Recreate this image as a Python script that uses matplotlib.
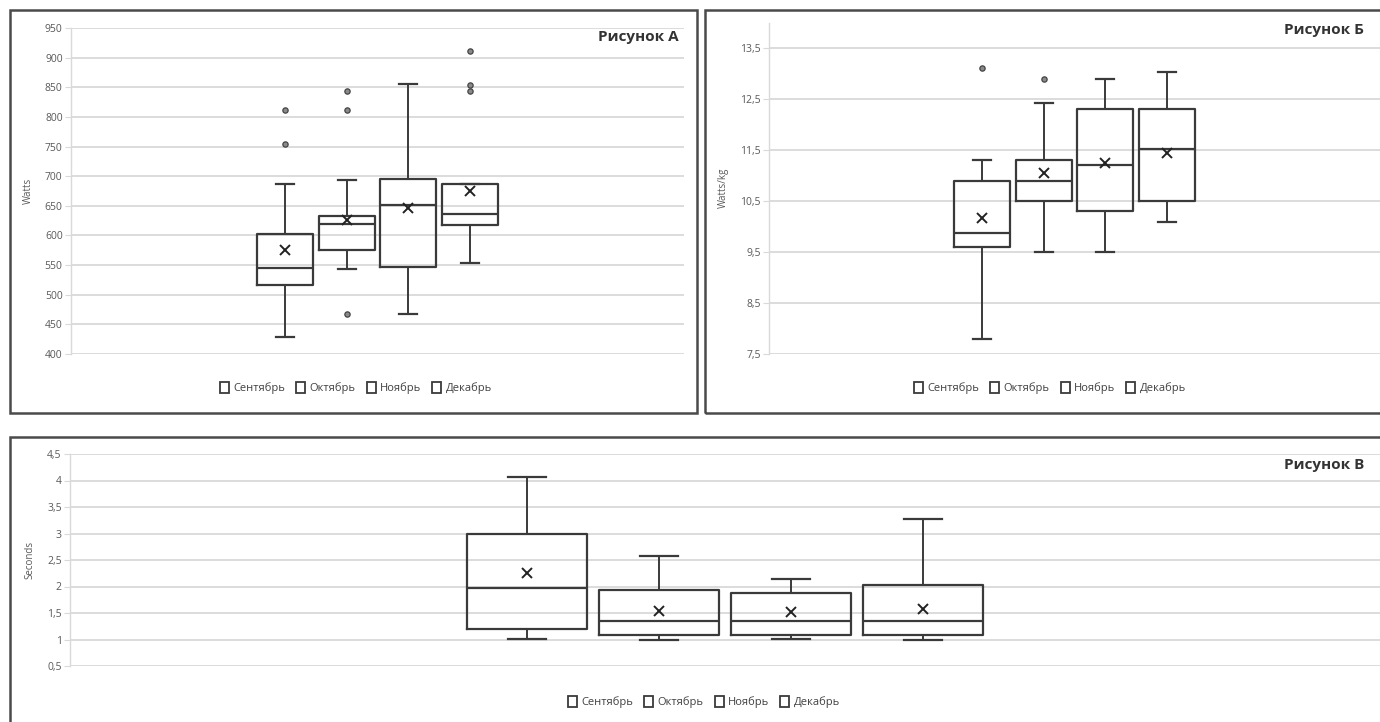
import matplotlib
matplotlib.use('Agg')
import matplotlib.pyplot as plt
from matplotlib.patches import Rectangle, Patch
from matplotlib.ticker import FuncFormatter

plt.rcParams['font.family'] = ['Open Sans', 'DejaVu Sans']

months = ['Сентябрь', 'Октябрь', 'Ноябрь', 'Декабрь']

# Panel A – Watts
a_q1 = [516, 576, 547, 618]
a_med = [545, 619, 652, 637]
a_q3 = [603, 632, 696, 687]
a_lo = [429, 543, 467, 554]
a_hi = [686, 693, 856, 687]
a_mean = [576, 626, 646, 675]
a_fliers = [[755, 811], [467, 811, 844], [], [843, 854, 912]]
a_ticks = [400, 450, 500, 550, 600, 650, 700, 750, 800, 850, 900, 950]

# Panel B – Watts/kg
b_q1 = [9.6, 10.5, 10.31, 10.5]
b_med = [9.88, 10.89, 11.21, 11.52]
b_q3 = [10.89, 11.3, 12.31, 12.31]
b_lo = [7.79, 9.5, 9.5, 10.09]
b_hi = [11.31, 12.42, 12.89, 13.02]
b_mean = [10.17, 11.04, 11.24, 11.45]
b_fliers = [[13.1], [12.89], [], []]
b_ticks = [7.5, 8.5, 9.5, 10.5, 11.5, 12.5, 13.5]

# Panel C – Seconds
c_q1 = [1.19, 1.08, 1.08, 1.08]
c_med = [1.98, 1.34, 1.34, 1.34]
c_q3 = [3.0, 1.93, 1.88, 2.02]
c_lo = [1.01, 0.99, 1.01, 0.99]
c_hi = [4.07, 2.58, 2.15, 3.27]
c_mean = [2.25, 1.54, 1.51, 1.58]
c_fliers = [[], [], [], []]
c_ticks = [0.5, 1, 1.5, 2, 2.5, 3, 3.5, 4, 4.5]

W, H = 1380, 722
fig = plt.figure(figsize=(W / 100, H / 100), dpi=100)
fig.patch.set_facecolor('white')

BOX = '#3a3a3a'
GRID = '#d9d9d9'
TXT = '#595959'


def fx(x):
    return x / W


def fy(y):
    return 1 - y / H


def make_axes(l, t, r, b):
    return fig.add_axes([fx(l), fy(b), fx(r) - fx(l), fy(t) - fy(b)])


def comma(v, _):
    s = ('%g' % v)
    return s.replace('.', ',')


def draw_panel(ax, q1, med, q3, lo, hi, mean, fliers, ticks, ylim, ylabel):
    stats = []
    for i in range(len(months)):
        stats.append(dict(q1=q1[i], med=med[i], q3=q3[i], whislo=lo[i],
                          whishi=hi[i], mean=mean[i], fliers=fliers[i],
                          label=months[i]))
    step = 0.1007
    width = 0.0917
    pos = [0.5 + (i - 1.5) * step for i in range(len(months))]
    ax.bxp(stats, positions=pos, widths=width, capwidths=[width * 0.32] * 4,
           showmeans=True, showfliers=True, patch_artist=False,
           boxprops=dict(color=BOX, lw=1.6),
           medianprops=dict(color=BOX, lw=1.6),
           whiskerprops=dict(color=BOX, lw=1.4),
           capprops=dict(color=BOX, lw=1.6),
           meanprops=dict(marker='x', markeredgecolor='#222222',
                          markerfacecolor='none', markersize=7, mew=1.4),
           flierprops=dict(marker='o', markerfacecolor='#8a8a8a',
                           markeredgecolor='#444444', markersize=3.8, mew=0.9),
           manage_ticks=False, zorder=3)
    ax.set_xlim(0, 1)
    ax.set_ylim(*ylim)
    ax.set_yticks(ticks)
    ax.yaxis.set_major_formatter(FuncFormatter(comma))
    ax.set_xticks([])
    ax.grid(axis='y', color=GRID, lw=1.3, zorder=0)
    ax.set_axisbelow(True)
    for s in ['top', 'right', 'bottom']:
        ax.spines[s].set_visible(False)
    ax.spines['left'].set_color(GRID)
    ax.spines['left'].set_linewidth(1.0)
    ax.tick_params(axis='y', length=4, color=GRID, labelsize=7.5, labelcolor=TXT, pad=2)
    ax.set_ylabel(ylabel, fontsize=7, color=TXT, labelpad=8)
    ax.patch.set_alpha(0)


def legend_at(x, y):
    handles = [Patch(facecolor='white', edgecolor='#3a3a3a', lw=1.3) for _ in months]
    fig.legend(handles, months, loc='center', bbox_to_anchor=(fx(x), fy(y)),
               bbox_transform=fig.transFigure, ncol=4, frameon=False,
               fontsize=8, handlelength=0.8, handleheight=1.1,
               handletextpad=0.4, columnspacing=1.0, labelcolor='#404040')


# Panel A
axA = make_axes(71, 28, 684, 354)
draw_panel(axA, a_q1, a_med, a_q3, a_lo, a_hi, a_mean, a_fliers, a_ticks,
           (400, 950), 'Watts')
fig.text(fx(679), fy(37), 'Рисунок А', ha='right', va='center', fontsize=11,
         fontweight='bold', color='#333333')
legend_at(356, 388)

# Panel B
axB = make_axes(769, 22.5, 1380, 354)
draw_panel(axB, b_q1, b_med, b_q3, b_lo, b_hi, b_mean, b_fliers, b_ticks,
           (7.5, 14.0), 'Watts/kg')
fig.text(fx(1364), fy(30), 'Рисунок Б', ha='right', va='center', fontsize=11,
         fontweight='bold', color='#333333')
legend_at(1050, 388)

# Panel C
axC = make_axes(70, 454, 1380, 666)
draw_panel(axC, c_q1, c_med, c_q3, c_lo, c_hi, c_mean, c_fliers, c_ticks,
           (0.5, 4.5), 'Seconds')
fig.text(fx(1364), fy(465), 'Рисунок В', ha='right', va='center', fontsize=11,
         fontweight='bold', color='#333333')
legend_at(704, 702)

# Panel frames
for (l, t, r, b) in [(10, 10, 697, 413), (705, 10, 1395, 413), (10, 437, 1395, 740)]:
    fig.add_artist(Rectangle((fx(l), fy(b)), fx(r) - fx(l), fy(t) - fy(b),
                             transform=fig.transFigure, fill=False,
                             ec='#4a4a4a', lw=1.8, zorder=10))

fig.savefig('out.png', dpi=100, facecolor='white')
